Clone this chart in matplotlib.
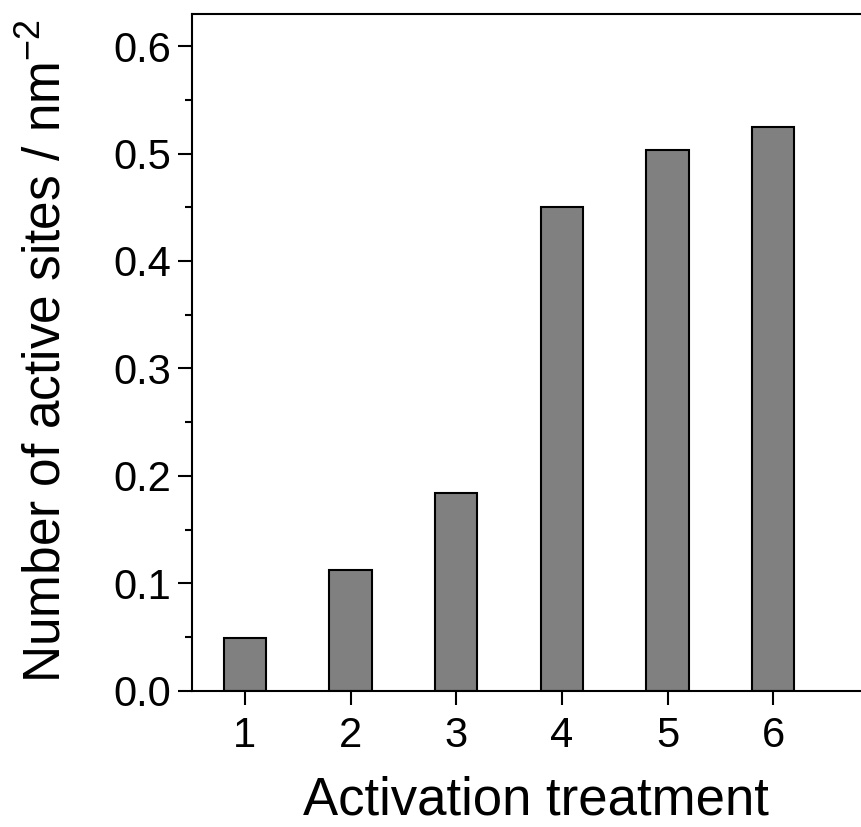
import matplotlib
matplotlib.use('Agg')
import matplotlib.pyplot as plt

plt.rcParams['font.family'] = ['Liberation Sans', 'DejaVu Sans']
plt.rcParams['mathtext.fontset'] = 'custom'
plt.rcParams['mathtext.rm'] = 'Liberation Sans'
plt.rcParams['mathtext.it'] = 'Liberation Sans'

treatments = [1, 2, 3, 4, 5, 6]
active_sites = [0.049, 0.112, 0.184, 0.450, 0.503, 0.525]
y_ticks = [0.0, 0.1, 0.2, 0.3, 0.4, 0.5, 0.6]
y_labels = ['0.0', '0.1', '0.2', '0.3', '0.4', '0.5', '0.6']

fig = plt.figure(figsize=(8.62, 8.27), dpi=100)
ax = fig.add_axes([0.2227, 0.1648, 0.797, 0.8184])

ax.bar(treatments, active_sites, width=0.4, color='#808080', edgecolor='black', linewidth=1.5)

ax.set_xlim(0.5, 7.0)
ax.set_ylim(0, 0.63)
ax.set_xticks(treatments)
ax.set_yticks(y_ticks)
ax.set_yticks([0.05, 0.15, 0.25, 0.35, 0.45, 0.55], minor=True)
ax.set_yticklabels(y_labels)

for s in ax.spines.values():
    s.set_linewidth(1.5)
ax.spines['right'].set_visible(False)

ax.tick_params(axis='both', which='major', direction='out', length=10, width=1.5, labelsize=30)
ax.tick_params(axis='y', which='minor', direction='out', length=5, width=1.5)
ax.tick_params(axis='x', pad=8)
ax.tick_params(axis='y', pad=5)

ax.set_xlabel('Activation treatment', fontsize=38, labelpad=14)
fig.text(0.054, 0.575, 'Number of active sites / nm$^{\\mathrm{-2}}$', rotation=90,
         ha='center', va='center', fontsize=37)

fig.savefig('out.png', dpi=100)
